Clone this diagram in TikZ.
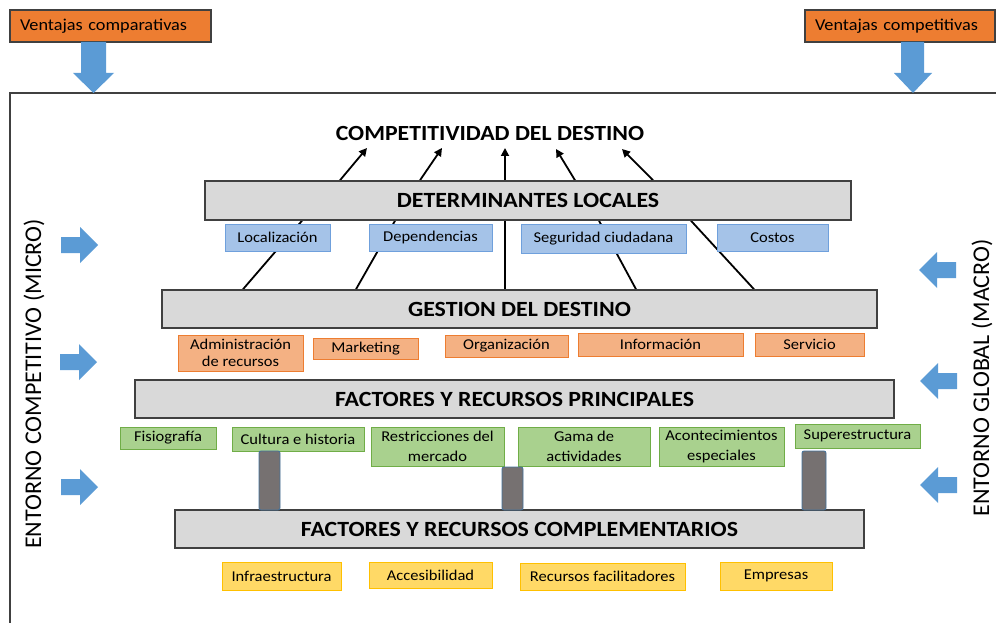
\documentclass[tikz,border=0pt]{standalone}
\usepackage{fontspec}
\setmainfont{Carlito}[FakeStretch=1.1]
\newfontfamily\sidefont{Carlito}
\usetikzlibrary{backgrounds,arrows.meta}
\definecolor{hdrorange}{HTML}{ED7D31}
\definecolor{arrowblue}{HTML}{5B9BD5}
\definecolor{bluefill}{HTML}{A5C3E8}
\definecolor{blueline}{HTML}{6FA0DC}
\definecolor{orfill}{HTML}{F4B183}
\definecolor{orline}{HTML}{ED7D31}
\definecolor{grfill}{HTML}{A9D18E}
\definecolor{grline}{HTML}{70AD47}
\definecolor{yefill}{HTML}{FFD966}
\definecolor{yeline}{HTML}{FFC000}
\definecolor{boxgray}{HTML}{D9D9D9}
\definecolor{boxline}{HTML}{404040}
\definecolor{pillar}{HTML}{767171}
\definecolor{pillarline}{HTML}{41719C}
\begin{document}
\begin{tikzpicture}[x=1pt,y=-1pt,
  hdr/.style={draw=boxline,line width=1.2pt,fill=hdrorange,minimum height=32pt,inner xsep=10pt,inner ysep=0pt,font=\fontsize{16.6}{19}\selectfont,align=left},
  level/.style={draw=boxline,line width=1.5pt,fill=boxgray,inner sep=0pt,font=\fontsize{21.7}{25}\selectfont\bfseries},
  item/.style={inner sep=0pt,line width=1pt,font=\fontsize{15}{17.5}\selectfont,align=center},
  bluebox/.style={item,draw=blueline,fill=bluefill},
  orbox/.style={item,draw=orline,fill=orfill},
  grbox/.style={item,draw=grline,fill=grfill},
  yebox/.style={item,draw=yeline,fill=yefill},
  pil/.style={draw=pillarline,line width=0.8pt,fill=pillar,inner sep=0pt,rounded corners=2pt},
  conn/.style={line width=1.8pt,black},
  arr/.style={conn,-{Triangle[length=8pt,width=8pt]}},
  side/.style={font=\sidefont\fontsize{24}{28}\selectfont,rotate=90},
  sidearrow/.pic={\fill[arrowblue] (-19,-8) -- (0,-8) -- (0,-18) -- (18,0) -- (0,18) -- (0,8) -- (-19,8) -- cycle;}
]
\useasboundingbox (0,0) rectangle (996,623);
% frame
\draw[line width=1.3pt,boxline] (10,640) -- (10,93) -- (1010,93);

% header boxes
\node[hdr,text width=181pt] (vcomp) at (110.5,26) {Ventajas comparativas};
\node[hdr,text width=170pt] (vcompet) at (900,26) {Ventajas competitivas};

% down arrows
\fill[arrowblue] (81,42) -- (106,42) -- (106,73) -- (114,73) -- (93.5,93) -- (73,73) -- (81,73) -- cycle;
\fill[arrowblue] (901,42) -- (924,42) -- (924,73) -- (932,73) -- (913,93) -- (894,73) -- (901,73) -- cycle;

% title
\node[font=\fontsize{21.6}{25}\selectfont\bfseries] (title) at (490,133) {COMPETITIVIDAD DEL DESTINO};

% level boxes
\node[level,minimum width=646pt,minimum height=39pt] (det) at (528,200.5) {DETERMINANTES LOCALES};
\node[level,minimum width=715pt,minimum height=38pt] (gest) at (519.5,309) {GESTION DEL DESTINO};
\node[level,minimum width=759pt,minimum height=38pt] (fp) at (514.5,399) {FACTORES Y RECURSOS PRINCIPALES};
\node[level,minimum width=689pt,minimum height=38pt] (fc) at (519.5,529) {FACTORES Y RECURSOS COMPLEMENTARIOS};

% blue items
\node[bluebox,minimum width=105pt,minimum height=27pt] (loc) at (277.5,237.5) {Localización};
\node[bluebox,minimum width=123pt,minimum height=27pt] (dep) at (430.5,237.5) {Dependencias};
\node[bluebox,minimum width=165pt,minimum height=29pt] (seg) at (603.5,238.5) {Seguridad ciudadana};
\node[bluebox,minimum width=111pt,minimum height=27pt] (cos) at (772.5,237.5) {Costos};

% orange items
\node[orbox,minimum width=125pt,minimum height=36pt] (adm) at (240.5,353) {Administración\\[0pt]de recursos};
\node[orbox,minimum width=105pt,minimum height=21pt] (mkt) at (365.5,348.5) {Marketing};
\node[orbox,minimum width=123pt,minimum height=22pt] (org) at (506.5,346) {Organización};
\node[orbox,minimum width=165pt,minimum height=23pt] (inf) at (660.5,344.5) {Información};
\node[orbox,minimum width=109pt,minimum height=23pt] (ser) at (809.5,344.5) {Servicio};

% green items
\node[grbox,minimum width=96pt,minimum height=22pt] (fis) at (168,438) {Fisiografía};
\node[grbox,minimum width=132pt,minimum height=24pt] (cul) at (298,439) {Cultura e historia};
\node[grbox,minimum width=133pt,minimum height=39pt] (res) at (437.5,446.5) {Restricciones del\\[2pt]mercado};
\node[grbox,minimum width=132pt,minimum height=39pt] (gam) at (584,446.5) {Gama de\\[2pt]actividades};
\node[grbox,minimum width=125pt,minimum height=39pt] (aco) at (721.5,446.5) {Acontecimientos\\[2pt]especiales};
\node[grbox,minimum width=125pt,minimum height=24pt] (sup) at (857.5,436) {Superestructura};

% pillars
\node[pil,minimum width=21pt,minimum height=59pt] (p1) at (269.5,480.5) {};
\node[pil,minimum width=21pt,minimum height=43pt] (p2) at (512.5,488.5) {};
\node[pil,minimum width=24pt,minimum height=59pt] (p3) at (814,480.5) {};

% yellow items
\node[yebox,minimum width=119pt,minimum height=28pt] (infra) at (281.5,576) {Infraestructura};
\node[yebox,minimum width=123pt,minimum height=26pt] (acc) at (430.5,575) {Accesibilidad};
\node[yebox,minimum width=165pt,minimum height=27pt] (rec) at (602.5,576.5) {Recursos facilitadores};
\node[yebox,minimum width=112pt,minimum height=28pt] (emp) at (776,576) {Empresas};

% side labels
\node[side] (micro) at (34,384) {ENTORNO COMPETITIVO (MICRO)};
\node[side] (macro) at (982,378) {ENTORNO GLOBAL (MACRO)};

% side arrows
\pic at (80,245) {sidearrow};
\pic at (79,362) {sidearrow};
\pic at (80,487) {sidearrow};
\pic[rotate=180] at (937,270) {sidearrow};
\pic[rotate=180] at (938,381) {sidearrow};
\pic[rotate=180] at (938,485) {sidearrow};

% connectors
\coordinate (a1) at (367,148);
\coordinate (a2) at (442,148);
\coordinate (a3) at (505,148);
\coordinate (a4) at (556,149);
\coordinate (a5) at (622,149);
\begin{pgfonlayer}{background}
\draw[arr] (det.north west -| 340,0) -- (a1);
\draw[arr] (det.north west -| 420,0) -- (a2);
\draw[arr] (gest.north -| 505,0) -- (a3);
\draw[arr] (det.north west -| 575,0) -- (a4);
\draw[arr] (det.north west -| 653,0) -- (a5);
\draw[conn] (gest.north -| 243,0) -- (det.south -| 302,0);
\draw[conn] (gest.north -| 356,0) -- (det.south -| 395,0);
\draw[conn] (gest.north -| 636,0) -- (det.south -| 599,0);
\draw[conn] (gest.north -| 754,0) -- (det.south -| 691,0);
\end{pgfonlayer}
\end{tikzpicture}
\end{document}
